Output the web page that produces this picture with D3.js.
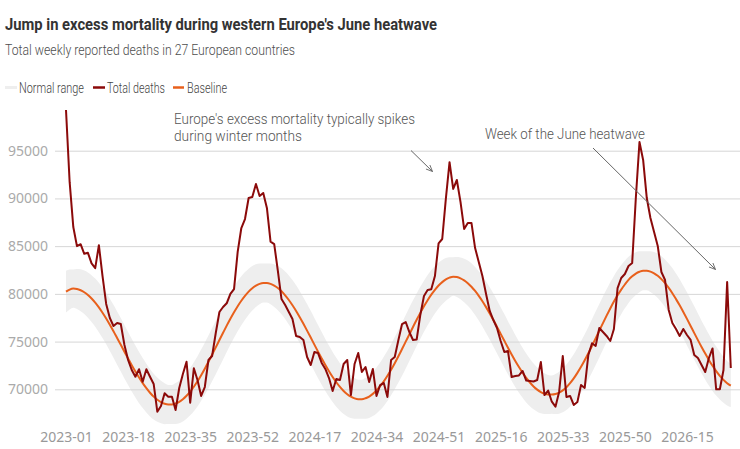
<!DOCTYPE html>
<html>
<head>
<meta charset="utf-8">
<script src="https://cdn.jsdelivr.net/npm/d3@7"></script>
<style>
  body { margin: 0; background: #fff; }
  svg { display: block; }
</style>
</head>
<body>
<svg id="chart" width="740" height="449"></svg>
<script>
'use strict'

var firstYear = 2023
var weeksPerYear = 52
var weekCount = 183

// category labels "yyyy-ww", one per reported week
var weeks = []
for (var n = 0; n < weekCount; n++) {
  var yr = firstYear + Math.floor(n / weeksPerYear)
  var wk = n % weeksPerYear + 1
  weeks.push(yr + "-" + (wk < 10 ? "0" + wk : wk))
}

var xTickLabels = ["2023-01", "2023-18", "2023-35", "2023-52", "2024-17", "2024-34",
  "2024-51", "2025-16", "2025-33", "2025-50", "2026-15"]
var yTicks = [70000, 75000, 80000, 85000, 90000, 95000]

var totalDeaths = [
  99270, 91700, 87000, 85000, 85200, 84200, 84300, 83200, 82700, 85100,
  81870, 78940, 77470, 76630, 76950, 76840, 74640, 73070, 72020, 71320,
  72100, 70800, 72100, 71320, 70560, 67650, 68250, 69580, 69220, 69220,
  67830, 70140, 71600, 72890, 68600, 72200, 70970, 69300, 70240, 73070,
  73490, 75900, 78100, 78620, 79010, 79990, 80500, 84390, 86900, 87840,
  90040, 90150, 91510, 90250, 90570, 89000, 85470, 85220, 82400, 79460,
  78830, 78100, 77370, 75590, 75480, 75170, 73380, 72550, 73910, 73800,
  72760, 72130, 71180, 69820, 71080, 70970, 72650, 73070, 69400, 72650,
  73800, 71810, 72340, 70760, 72130, 69300, 70450, 70660, 69200, 73070,
  73380, 75170, 76840, 77050, 76000, 75170, 75220, 77790, 79780, 80400,
  80480, 81870, 85300, 85750, 90000, 93800, 91000, 91930, 89630, 86800,
  87430, 87430, 84800, 83340, 81870, 79990, 78210, 77260, 76420, 75060,
  73910, 74010, 71290, 71390, 71450, 71920, 70920, 70870, 70820, 70970,
  72860, 69400, 69870, 68700, 68180, 69720, 73490, 69200, 69300, 68360,
  68670, 70450, 70140, 73600, 74820, 74540, 76420, 76000, 75590, 75060,
  76320, 80610, 81660, 82080, 82920, 83230, 90040, 95910, 94030, 90040,
  87950, 86480, 85020, 82290, 81450, 78310, 76950, 76320, 75590, 76320,
  75690, 75170, 73600, 73280, 72550, 71810, 73280, 74280, 70000, 70000,
  72020, 81240, 72230
]

var baseline = [
  80230, 80450, 80550, 80510, 80380, 80170, 79880, 79510, 79080, 78580,
  78020, 77410, 76760, 76080, 75370, 74660, 73940, 73230, 72530, 71860,
  71230, 70650, 70120, 69640, 69230, 68910, 68660, 68490, 68410, 68410,
  68510, 68690, 68960, 69320, 69760, 70270, 70840, 71480, 72160, 72880,
  73630, 74390, 75160, 75920, 76670, 77390, 78070, 78710, 79280, 79790,
  80230, 80590, 80860, 81050, 81140, 81140, 81050, 80870, 80610, 80270,
  79850, 79360, 78810, 78210, 77550, 76860, 76150, 75420, 74680, 73950,
  73240, 72550, 71900, 71290, 70740, 70250, 69830, 69490, 69230, 69050,
  68960, 68960, 69060, 69240, 69520, 69880, 70320, 70830, 71410, 72050,
  72740, 73460, 74220, 74990, 75760, 76530, 77290, 78010, 78700, 79340,
  79920, 80430, 80870, 81230, 81510, 81700, 81800, 81760, 81630, 81410,
  81120, 80750, 80300, 79790, 79230, 78610, 77950, 77260, 76540, 75810,
  75080, 74350, 73650, 72960, 72330, 71740, 71190, 70710, 70300, 69970,
  69710, 69540, 69460, 69450, 69500, 69650, 69890, 70220, 70640, 71140,
  71720, 72360, 73050, 73780, 74550, 75340, 76140, 76940, 77720, 78470,
  79190, 79850, 80450, 80980, 81470, 81840, 82130, 82320, 82420, 82420,
  82330, 82150, 81890, 81540, 81120, 80620, 80070, 79450, 78800, 78100,
  77380, 76640, 75890, 75150, 74430, 73740, 73080, 72460, 71910, 71410,
  70990, 70640, 70380
]

// normal range, lower and upper edge
var rangeLow = [
  78040, 78360, 78550, 78420, 78190, 77890, 77510, 77060, 76560, 75990,
  75370, 74710, 74020, 73310, 72580, 71860, 71140, 70450, 69770, 69140,
  68550, 68030, 67560, 67160, 66830, 66590, 66430, 66350, 66360, 66360,
  66370, 66450, 66630, 66910, 67270, 67700, 68210, 68800, 69430, 70120,
  70840, 71590, 72360, 73130, 73910, 74660, 75390, 76080, 76710, 77300,
  77820, 78260, 78620, 78910, 79090, 79090, 78910, 78630, 78280, 77860,
  77360, 76790, 76180, 75530, 74820, 74100, 73360, 72620, 71880, 71160,
  70480, 69820, 69220, 68660, 68170, 67760, 67420, 67160, 66990, 66910,
  66910, 66910, 66920, 67000, 67190, 67470, 67830, 68260, 68780, 69370,
  70010, 70700, 71430, 72190, 72960, 73740, 74530, 75280, 76020, 76710,
  77350, 77940, 78460, 78900, 79270, 79560, 79800, 79670, 79440, 79130,
  78750, 78300, 77780, 77200, 76580, 75910, 75210, 74490, 73750, 73010,
  72280, 71570, 70890, 70240, 69650, 69120, 68630, 68230, 67900, 67650,
  67480, 67400, 67410, 67450, 67400, 67450, 67600, 67840, 68180, 68600,
  69110, 69690, 70330, 71030, 71770, 72540, 73340, 74150, 74950, 75730,
  76500, 77210, 77870, 78480, 79050, 79510, 79890, 80170, 80370, 80370,
  80190, 79910, 79560, 79130, 78630, 78050, 77440, 76770, 76070, 75340,
  74590, 73840, 73090, 72360, 71670, 71010, 70400, 69830, 69340, 68920,
  68580, 68310, 68140
]

var rangeHigh = [
  82420, 82540, 82550, 82600, 82570, 82450, 82250, 81960, 81600, 81170,
  80670, 80110, 79500, 78850, 78160, 77460, 76740, 76010, 75290, 74580,
  73910, 73270, 72680, 72120, 71630, 71230, 70890, 70630, 70460, 70460,
  70650, 70930, 71290, 71730, 72250, 72840, 73470, 74160, 74890, 75640,
  76420, 77190, 77960, 78710, 79430, 80120, 80750, 81340, 81850, 82280,
  82640, 82920, 83100, 83190, 83190, 83190, 83190, 83110, 82940, 82680,
  82340, 81930, 81440, 80890, 80280, 79620, 78940, 78220, 77480, 76740,
  76000, 75280, 74580, 73920, 73310, 72740, 72240, 71820, 71470, 71190,
  71010, 71010, 71200, 71480, 71850, 72290, 72810, 73400, 74040, 74730,
  75470, 76220, 77010, 77790, 78560, 79320, 80050, 80740, 81380, 81970,
  82490, 82920, 83280, 83560, 83750, 83840, 83840, 83850, 83820, 83690,
  83490, 83200, 82820, 82380, 81880, 81310, 80690, 80030, 79330, 78610,
  77880, 77130, 76410, 75680, 75010, 74360, 73750, 73190, 72700, 72290,
  71940, 71680, 71510, 71450, 71600, 71850, 72180, 72600, 73100, 73680,
  74330, 75030, 75770, 76530, 77330, 78140, 78940, 79730, 80490, 81210,
  81880, 82490, 83030, 83480, 83890, 84170, 84370, 84470, 84470, 84470,
  84470, 84390, 84220, 83950, 83610, 83190, 82700, 82130, 81530, 80860,
  80170, 79440, 78690, 77940, 77190, 76470, 75760, 75090, 74480, 73900,
  73400, 72970, 72620
]

var colors = {
  range: "#eeeeee",
  total: "#8b0a0a",
  base: "#e8601c",
  grid: "#d6d6d6",
  note: "#555"
}

var narrow = "'Liberation Sans Narrow', 'Arial Narrow', Roboto, sans-serif"
var axisFont = "'Noto Sans', 'DejaVu Sans', sans-serif"

var svg = d3.select("#chart")

// squeeze or stretch a text to the width it takes in the original
function fit(sel, w) {
  sel.attr("textLength", w).attr("lengthAdjust", "spacingAndGlyphs")
  return sel
}

var rows = weeks.map(function(w, i) {
  return { week: w, total: totalDeaths[i], base: baseline[i], lo: rangeLow[i], hi: rangeHigh[i] }
})

var x = d3.scalePoint().domain(weeks).range([66, 730.8])
var y = d3.scaleLinear().domain([70000, 95000]).range([389.3, 150.7])

// header
fit(svg.append("text")
  .attr("x", 5).attr("y", 29.5)
  .attr("font-family", narrow).attr("font-weight", "bold").attr("font-size", 16)
  .attr("fill", "#333")
  .text("Jump in excess mortality during western Europe's June heatwave"), 432)

fit(svg.append("text")
  .attr("x", 5).attr("y", 55)
  .attr("font-family", narrow).attr("font-size", 15).attr("font-weight", 300)
  .attr("fill", "#4d4d4d")
  .text("Total weekly reported deaths in 27 European countries"), 290)

// legend
var legendItems = [
  { label: "Normal range", color: colors.range, x0: 5, x1: 17, tx: 19, tw: 65, sw: 3 },
  { label: "Total deaths", color: colors.total, x0: 93, x1: 105, tx: 107, tw: 58, sw: 2.5 },
  { label: "Baseline", color: colors.base, x0: 173, x1: 184, tx: 187, tw: 40, sw: 2.5 }
]
var legend = svg.append("g").attr("class", "legend")
legendItems.forEach(function(it) {
  legend.append("line")
    .attr("x1", it.x0).attr("x2", it.x1).attr("y1", 87.5).attr("y2", 87.5)
    .attr("stroke", it.color).attr("stroke-width", it.sw)
  fit(legend.append("text")
    .attr("x", it.tx).attr("y", 92.5)
    .attr("font-family", narrow).attr("font-size", 14.5).attr("font-weight", 300)
    .attr("fill", "#444")
    .text(it.label), it.tw)
})

// normal range band
svg.append("path")
  .datum(rows)
  .attr("fill", colors.range)
  .attr("d", d3.area()
    .x(function(d) { return x(d.week) })
    .y0(function(d) { return y(d.lo) })
    .y1(function(d) { return y(d.hi) })
    .curve(d3.curveMonotoneX))

// y axis with gridlines
var yAxis = svg.append("g")
  .attr("transform", "translate(55,0)")
  .call(d3.axisLeft(y).tickValues(yTicks).tickSize(-685).tickPadding(7).tickFormat(d3.format("d")))
yAxis.select(".domain").remove()
yAxis.selectAll(".tick line").attr("stroke", colors.grid).attr("stroke-width", 1)
yAxis.selectAll(".tick text")
  .attr("font-family", axisFont).attr("font-size", 14).attr("fill", "#aaa")

// x axis, labels only
var xAxis = svg.append("g")
  .attr("transform", "translate(0,425)")
  .call(d3.axisBottom(x).tickValues(xTickLabels).tickSize(0).tickPadding(7))
xAxis.select(".domain").remove()
xAxis.selectAll(".tick text")
  .attr("font-family", axisFont).attr("font-size", 14).attr("fill", "#999")

// series
svg.append("path")
  .datum(rows)
  .attr("fill", "none")
  .attr("stroke", colors.base)
  .attr("stroke-width", 2)
  .attr("d", d3.line()
    .x(function(d) { return x(d.week) })
    .y(function(d) { return y(d.base) })
    .curve(d3.curveMonotoneX))

svg.append("path")
  .datum(rows)
  .attr("fill", "none")
  .attr("stroke", colors.total)
  .attr("stroke-width", 2)
  .attr("stroke-linejoin", "round")
  .attr("d", d3.line()
    .x(function(d) { return x(d.week) })
    .y(function(d) { return y(d.total) }))

// annotations
svg.append("defs").append("marker")
  .attr("id", "arrow")
  .attr("viewBox", "0 0 10 10")
  .attr("refX", 9).attr("refY", 5)
  .attr("markerWidth", 8).attr("markerHeight", 8)
  .attr("orient", "auto")
  .append("path")
  .attr("d", "M1,1.5L9,5L1,8.5")
  .attr("fill", "none").attr("stroke", "#666").attr("stroke-width", 1.1)

var notes = [
  { lines: ["Europe's excess mortality typically spikes", "during winter months"],
    widths: [241, 128], x: 174, y: 123.5, from: [411, 150.5], to: [432.5, 171.5] },
  { lines: ["Week of the June heatwave"],
    widths: [160], x: 485, y: 139.3, from: [593, 148], to: [715.5, 269.5] }
]
notes.forEach(function(nt) {
  nt.lines.forEach(function(line, i) {
    fit(svg.append("text")
      .attr("x", nt.x).attr("y", nt.y + i * 17)
      .attr("font-family", narrow).attr("font-size", 14).attr("font-weight", 300)
      .attr("fill", colors.note)
      .text(line), nt.widths[i])
  })
  svg.append("line")
    .attr("x1", nt.from[0]).attr("y1", nt.from[1])
    .attr("x2", nt.to[0]).attr("y2", nt.to[1])
    .attr("stroke", "#666").attr("stroke-width", 1)
    .attr("marker-end", "url(#arrow)")
})
</script>
</body>
</html>
